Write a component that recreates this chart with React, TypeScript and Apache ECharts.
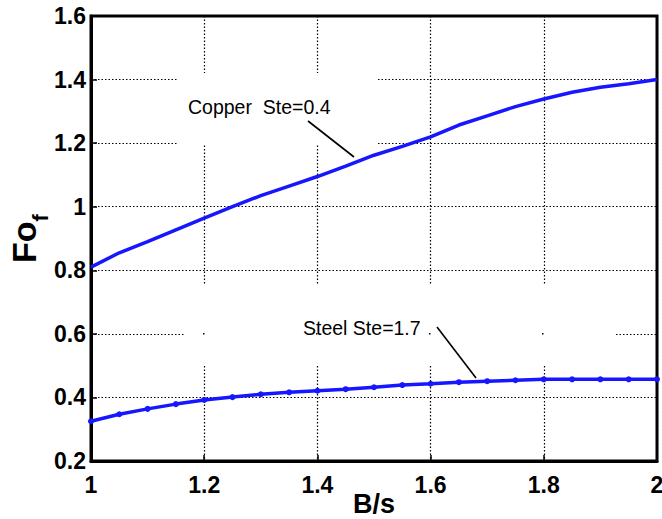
import React, { useEffect, useRef } from "react";
import * as echarts from "echarts";

const bValues = [1, 1.05, 1.1, 1.15, 1.2, 1.25, 1.3, 1.35, 1.4, 1.45, 1.5, 1.55, 1.6, 1.65, 1.7, 1.75, 1.8, 1.85, 1.9, 1.95, 2];
const copper = [0.81, 0.855, 0.89, 0.927, 0.964, 1.0, 1.035, 1.065, 1.095, 1.128, 1.162, 1.19, 1.22, 1.257, 1.286, 1.315, 1.339, 1.36, 1.376, 1.387, 1.4];
const steel = [0.325, 0.347, 0.364, 0.379, 0.392, 0.401, 0.41, 0.416, 0.421, 0.426, 0.432, 0.439, 0.443, 0.448, 0.451, 0.454, 0.457, 0.457, 0.457, 0.457, 0.457];
const copperLabel = "Copper  Ste=0.4";
const steelLabel = "Steel Ste=1.7";

const FONT = "'Liberation Sans', Arial, Helvetica, sans-serif";
const BLUE = "#1616ff";

export default function App() {
  const ref = useRef<HTMLDivElement>(null);
  useEffect(() => {
    if (!ref.current) return;
    const chart = echarts.init(ref.current, null, { renderer: "svg" });
    const fmt = (v: number) => String(parseFloat(v.toFixed(1)));
    chart.setOption({
      animation: false,
      backgroundColor: "#fff",
      grid: {
        left: 91, right: 5, top: 16, bottom: 58, show: true, borderColor: "#000", borderWidth: 3,
        containLabel: false, outerBoundsMode: "none",
      },
      xAxis: {
        type: "value", min: 1, max: 2, interval: 0.2,
        name: "B/s", nameLocation: "middle", nameGap: 29, nameMoveOverlap: false,
        nameTextStyle: { fontFamily: FONT, fontWeight: "bold", fontSize: 27, color: "#000" },
        axisLine: { lineStyle: { color: "#000", width: 3 } },
        axisTick: { inside: true, length: 6, lineStyle: { color: "#000", width: 1.5 } },
        axisLabel: { formatter: fmt, fontFamily: FONT, fontWeight: "bold", fontSize: 23, color: "#000", margin: 12 },
        splitLine: { show: true, lineStyle: { color: "#000", width: 1.2, type: [1.5, 2] } },
      },
      yAxis: {
        type: "value", min: 0.2, max: 1.6, interval: 0.2,
        name: "{a|Fo}{b|f}", nameLocation: "middle", nameGap: 40, nameRotate: 90, nameMoveOverlap: false,
        nameTextStyle: {
          rich: {
            a: { fontFamily: FONT, fontWeight: "bold", fontSize: 34, color: "#000", lineHeight: 44, verticalAlign: "top" },
            b: { fontFamily: FONT, fontWeight: "bold", fontSize: 22, color: "#000", lineHeight: 44, verticalAlign: "bottom" },
          },
        },
        axisLine: { lineStyle: { color: "#000", width: 3 } },
        axisTick: { inside: true, length: 6, lineStyle: { color: "#000", width: 1.5 } },
        axisLabel: { formatter: fmt, fontFamily: FONT, fontWeight: "bold", fontSize: 23, color: "#000", margin: 5 },
        splitLine: { show: true, lineStyle: { color: "#000", width: 1.2, type: [1.5, 2] } },
      },
      graphic: [
        { type: "rect", z: 1, shape: { x: 178, y: 73, width: 200, height: 71 }, style: { fill: "#fff" } },
        { type: "rect", z: 1, shape: { x: 185, y: 285, width: 430, height: 80 }, style: { fill: "#fff" } },
        { type: "text", z: 5, x: 188, y: 107, style: { text: copperLabel, fontFamily: FONT, fontSize: 19.5, fill: "#000", align: "left", verticalAlign: "middle" } },
        { type: "text", z: 5, x: 303, y: 328, style: { text: steelLabel, fontFamily: FONT, fontSize: 19.5, fill: "#000", align: "left", verticalAlign: "middle" } },
        { type: "line", z: 5, shape: { x1: 308, y1: 121, x2: 354, y2: 157 }, style: { stroke: "#000", lineWidth: 1.6 } },
        { type: "line", z: 5, shape: { x1: 437, y1: 327, x2: 476, y2: 378 }, style: { stroke: "#000", lineWidth: 1.6 } },
        { type: "rect", z: 2, shape: { x: 203, y: 333, width: 1.5, height: 1.5 }, style: { fill: "#000" } },
        { type: "rect", z: 2, shape: { x: 316, y: 333, width: 1.5, height: 1.5 }, style: { fill: "#000" } },
        { type: "rect", z: 2, shape: { x: 429, y: 333, width: 1.5, height: 1.5 }, style: { fill: "#000" } },
        { type: "rect", z: 2, shape: { x: 542, y: 333, width: 1.5, height: 1.5 }, style: { fill: "#000" } },
      ],
      series: [
        {
          type: "line", name: "Copper", data: bValues.map((b, i) => [b, copper[i]]),
          showSymbol: false, lineStyle: { color: BLUE, width: 3.5 }, itemStyle: { color: BLUE }, z: 3,
        },
        {
          type: "line", name: "Steel", data: bValues.map((b, i) => [b, steel[i]]),
          symbol: "circle", symbolSize: 6, showSymbol: true,
          lineStyle: { color: BLUE, width: 3.5 }, itemStyle: { color: BLUE }, z: 3,
        },
      ],
    });
    return () => chart.dispose();
  }, []);
  return <div ref={ref} style={{ position: "fixed", left: 0, top: 0, width: 662, height: 519 }} />;
}
